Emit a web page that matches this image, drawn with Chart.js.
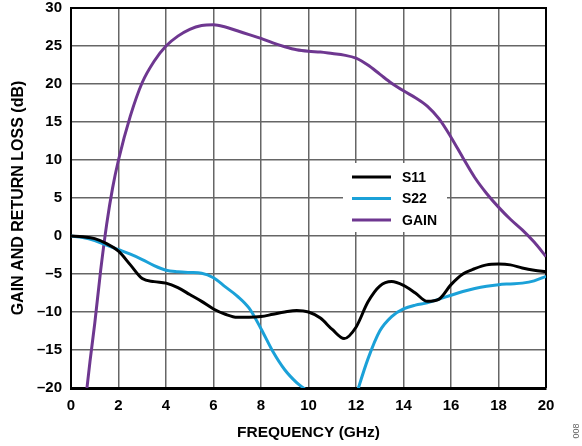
<!DOCTYPE html>
<html>
<head>
<meta charset="utf-8">
<script src="https://cdn.jsdelivr.net/npm/chart.js@4/dist/chart.umd.min.js"></script>
<style>
  body { margin: 0; background: #fff; }
  #wrap { width: 582px; height: 446px; }
</style>
</head>
<body>
<div id="wrap"><canvas id="grafica" width="582" height="446"></canvas></div>
<script>
// frecuencias (GHz) para S11 y S22
const freq = [0, 0.5, 1, 1.5, 2, 2.5, 3, 3.5, 4, 4.5, 5, 5.5, 6, 6.5, 7, 7.5, 8, 8.5, 9, 9.5,
  10, 10.5, 11, 11.5, 12, 12.5, 13, 13.5, 14, 14.5, 15, 15.5, 16, 16.5, 17, 17.5, 18, 18.5, 19, 19.5, 20];

const s11 = [0, -0.1, -0.35, -1.0, -2.0, -3.8, -5.6, -6.0, -6.2, -6.8, -7.7, -8.6, -9.6, -10.3, -10.7, -10.7,
  -10.6, -10.3, -10.0, -9.8, -10.0, -10.8, -12.3, -13.5, -12.0, -8.7, -6.6, -6.0, -6.5, -7.5, -8.6, -8.3,
  -6.4, -5.0, -4.3, -3.8, -3.7, -3.8, -4.2, -4.5, -4.7];

const s22 = [0, -0.2, -0.6, -1.2, -1.8, -2.4, -3.1, -3.9, -4.5, -4.7, -4.8, -4.9, -5.5, -6.7, -7.9, -9.5,
  -12.2, -15.2, -17.6, -19.3, -20.6, -23, -25, -26, -21, -16.2, -12.5, -10.6, -9.6, -9.1, -8.8, -8.3,
  -7.8, -7.3, -6.9, -6.6, -6.4, -6.3, -6.2, -5.9, -5.3];

// la ganancia sube muy rapido al inicio, por eso tiene sus propias frecuencias
const gainFreq = [0.6, 0.8, 1.0, 1.25, 1.5, 1.75, 2, 2.5, 3, 3.5, 4, 4.5, 5, 5.5, 6, 6.5, 7, 7.5, 8, 8.5, 9,
  9.5, 10, 10.5, 11, 11.5, 12, 12.5, 13, 13.5, 14, 14.5, 15, 15.5, 16, 16.5, 17, 17.5, 18, 18.5, 19, 19.5, 20];

const gain = [-22, -16.5, -11.5, -4.5, 1.5, 6.3, 10.0, 15.8, 20.2, 23.0, 25.0, 26.3, 27.2, 27.7, 27.8, 27.5,
  27.0, 26.5, 26.0, 25.4, 24.9, 24.5, 24.3, 24.2, 24.0, 23.8, 23.4, 22.5, 21.3, 20.1, 19.1, 18.2, 17.1,
  15.4, 13.0, 10.3, 7.7, 5.6, 3.8, 2.2, 0.8, -0.8, -2.7];

const etiquetas = ['S11', 'S22', 'GAIN'];
const colores = ['#000000', '#1ba1d8', '#6e3790'];

// une x e y en puntos para el eje lineal
function puntos(xs, ys) {
  return xs.map((x, i) => ({ x: x, y: ys[i] }));
}

const fuente = "'Liberation Sans', Arial, sans-serif";

// marco, leyenda y el numero de figura
const extras = {
  id: 'extras',
  beforeDatasetsDraw(chart) {
    const c = chart.ctx;
    const a = chart.chartArea;
    c.save();
    // marco superior y derecho
    c.strokeStyle = '#000';
    c.lineWidth = 2;
    c.beginPath();
    c.moveTo(a.left, a.top);
    c.lineTo(a.right, a.top);
    c.lineTo(a.right, a.bottom);
    c.stroke();

    // caja de la leyenda tapa la cuadricula
    const lx = a.left + 272, ly = a.top + 155;
    c.fillStyle = '#fff';
    c.fillRect(lx, ly, 104, 69);
    chart.data.datasets.forEach((ds, i) => {
      const y = ly + 14 + i * 21.5;
      c.strokeStyle = ds.borderColor;
      c.lineWidth = 3;
      c.beginPath();
      c.moveTo(lx + 9, y);
      c.lineTo(lx + 48, y);
      c.stroke();
      c.fillStyle = '#000';
      c.font = 'bold 14px ' + fuente;
      c.textBaseline = 'middle';
      c.textAlign = 'left';
      c.fillText(ds.label, lx + 59, y + 1);
    });

    c.translate(577, 431);
    c.rotate(-Math.PI / 2);
    c.fillStyle = '#666';
    c.font = '9px ' + fuente;
    c.textAlign = 'center';
    c.textBaseline = 'middle';
    c.fillText('008', 0, 0);
    c.restore();
  }
};

const ctx = document.getElementById('grafica');
const series = [puntos(freq, s11), puntos(freq, s22), puntos(gainFreq, gain)];

new Chart(ctx, {
  type: 'line',
  data: {
    datasets: series.map((d, i) => ({
      label: etiquetas[i],
      data: d,
      borderColor: colores[i],
      borderWidth: 3,
      pointRadius: 0,
      fill: false,
      cubicInterpolationMode: 'monotone'
    }))
  },
  options: {
    responsive: false,
    animation: false,
    layout: { padding: { top: 8, right: 36, left: 0, bottom: 0 } },
    plugins: { legend: { display: false }, tooltip: { enabled: false } },
    scales: {
      x: {
        type: 'linear',
        min: 0, max: 20,
        afterFit: s => { s.height = 58; s.paddingLeft = 0; s.paddingRight = 0; },
        ticks: { stepSize: 2, padding: 9, color: '#000', font: { family: fuente, size: 15, weight: 'bold' } },
        grid: { color: '#666', lineWidth: 1.5, drawTicks: false },
        border: { color: '#000', width: 3 },
        title: { display: true, text: 'FREQUENCY (GHz)', color: '#000', padding: { top: 2, bottom: 4 },
          font: { family: fuente, size: 15.5, weight: 'bold' } }
      },
      y: {
        min: -20, max: 30,
        afterFit: s => { s.width = 71; s.paddingTop = 0; s.paddingBottom = 0; },
        ticks: {
          stepSize: 5, padding: 9, color: '#000',
          font: { family: fuente, size: 15, weight: 'bold' },
          callback: v => String(v).replace('-', '\u2013')
        },
        grid: { color: '#666', lineWidth: 1.5, drawTicks: false },
        border: { color: '#000', width: 2 },
        title: { display: true, text: 'GAIN AND RETURN LOSS (dB)', color: '#000', padding: { top: 9, bottom: 0 },
          font: { family: fuente, size: 16, weight: 'bold' } }
      }
    }
  },
  plugins: [extras]
});
</script>
</body>
</html>
